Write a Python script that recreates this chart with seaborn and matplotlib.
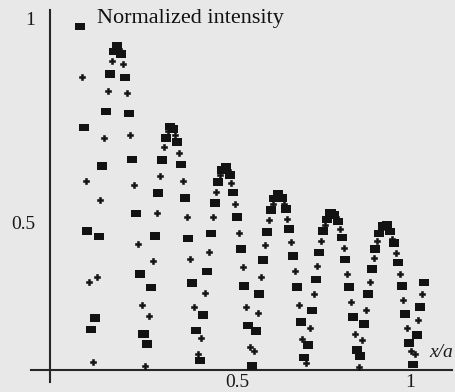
import matplotlib
matplotlib.use("Agg")
import matplotlib.pyplot as plt
import seaborn as sns
import pandas as pd
from matplotlib.path import Path
from matplotlib.transforms import ScaledTranslation

# ---------------- data ----------------
sq_x = [0.08, 0.09, 0.10, 0.11, 0.12, 0.13, 0.14, 0.15, 0.16, 0.17,
        0.18, 0.19, 0.20, 0.21, 0.22, 0.23, 0.24, 0.25, 0.26, 0.27,
        0.28, 0.29, 0.30, 0.31, 0.32, 0.33, 0.34, 0.35, 0.36, 0.37,
        0.38, 0.39, 0.40, 0.41, 0.42, 0.43, 0.44, 0.45, 0.46, 0.47,
        0.48, 0.49, 0.50, 0.51, 0.52, 0.53, 0.54, 0.55, 0.56, 0.57,
        0.58, 0.59, 0.60, 0.61, 0.62, 0.63, 0.64, 0.65, 0.66, 0.67,
        0.68, 0.69, 0.70, 0.71, 0.72, 0.73, 0.74, 0.75, 0.76, 0.77,
        0.78, 0.79, 0.80, 0.81, 0.82, 0.83, 0.84, 0.85, 0.86, 0.87,
        0.88, 0.89, 0.90, 0.91, 0.92, 0.93, 0.94, 0.95, 0.96, 0.97,
        0.98, 0.99, 1.00]
sq_y = [0.980, 0.733, 0.480, 0.239, 0.267, 0.466, 0.639, 0.772, 0.864, 0.919,
        0.933, 0.913, 0.856, 0.767, 0.655, 0.522, 0.374, 0.227, 0.203, 0.341,
        0.467, 0.573, 0.654, 0.708, 0.735, 0.729, 0.698, 0.643, 0.561, 0.461,
        0.352, 0.236, 0.162, 0.274, 0.380, 0.474, 0.548, 0.600, 0.629, 0.636,
        0.617, 0.574, 0.514, 0.435, 0.345, 0.248, 0.149, 0.235, 0.325, 0.409,
        0.477, 0.531, 0.559, 0.570, 0.560, 0.534, 0.484, 0.419, 0.343, 0.257,
        0.170, 0.201, 0.285, 0.361, 0.427, 0.480, 0.508, 0.525, 0.519, 0.503,
        0.464, 0.410, 0.343, 0.269, 0.188, 0.174, 0.252, 0.325, 0.387, 0.436,
        0.474, 0.492, 0.494, 0.478, 0.450, 0.402, 0.345, 0.276, 0.205, 0.153,
        0.225, 0.293, 0.354]

cr_x = [0.085, 0.095, 0.105, 0.115, 0.125, 0.135, 0.145, 0.155, 0.165, 0.175,
        0.185, 0.195, 0.205, 0.215, 0.225, 0.235, 0.245, 0.255, 0.265, 0.275,
        0.285, 0.295, 0.305, 0.315, 0.325, 0.335, 0.345, 0.355, 0.365, 0.375,
        0.385, 0.395, 0.405, 0.415, 0.425, 0.435, 0.445, 0.455, 0.465, 0.475,
        0.485, 0.495, 0.505, 0.515, 0.525, 0.535, 0.545, 0.555, 0.565, 0.575,
        0.585, 0.595, 0.605, 0.615, 0.625, 0.635, 0.645, 0.655, 0.665, 0.675,
        0.685, 0.695, 0.705, 0.715, 0.725, 0.735, 0.745, 0.755, 0.765, 0.775,
        0.785, 0.795, 0.805, 0.815, 0.825, 0.835, 0.845, 0.855, 0.865, 0.875,
        0.885, 0.895, 0.905, 0.915, 0.925, 0.935, 0.945, 0.955, 0.965, 0.975,
        0.985, 0.995]
cr_y = [0.857, 0.603, 0.356, 0.160, 0.368, 0.556, 0.708, 0.822, 0.896, 0.928,
        0.925, 0.889, 0.817, 0.714, 0.592, 0.448, 0.298, 0.150, 0.272, 0.405,
        0.523, 0.615, 0.686, 0.725, 0.734, 0.715, 0.671, 0.603, 0.515, 0.410,
        0.294, 0.178, 0.218, 0.329, 0.428, 0.514, 0.576, 0.617, 0.636, 0.629,
        0.597, 0.546, 0.476, 0.391, 0.294, 0.196, 0.185, 0.280, 0.367, 0.445,
        0.507, 0.545, 0.566, 0.566, 0.545, 0.510, 0.452, 0.382, 0.298, 0.215,
        0.156, 0.241, 0.325, 0.395, 0.456, 0.494, 0.519, 0.526, 0.514, 0.484,
        0.437, 0.374, 0.307, 0.227, 0.147, 0.214, 0.286, 0.356, 0.413, 0.456,
        0.485, 0.497, 0.487, 0.461, 0.427, 0.374, 0.311, 0.242, 0.187, 0.178,
        0.262, 0.325]

y_major_ticks = [0.5, 1.0]
y_major_labels = ["0.5", "1"]
x_major_ticks = [0.5, 1.0]
x_major_labels = ["0.5", "1"]
x_minor_ticks = [0.1, 0.2, 0.3, 0.4, 0.5, 0.6, 0.7, 0.8, 0.9, 1.0]
y_minor_step = 0.5 / 14
title_text = "Normalized intensity"
x_axis_name = "x/a"

# ---------------- style ----------------
sns.set_style("white")
plt.rcParams["font.family"] = ["Liberation Serif", "DejaVu Serif"]

BG = "#e8e8e8"
INK = "#121212"
AX = "#262626"

W, H, DPI = 456, 392, 100
fig = plt.figure(figsize=(W / DPI, H / DPI), dpi=DPI, facecolor=BG)
ax = fig.add_axes([0, 0, 1, 1], facecolor=BG)

# pixel <-> data mapping of the reference frame
PX0, PX_PER = 50.0, 374.0        # x: 0 at px 50, 1 unit = 374 px
PY_TOP, PY_PER = 426.9, 408.4    # y: value = (426.9 - py) / 408.4
def xv(px):
    return (px - PX0) / PX_PER
def yv(py):
    return (PY_TOP - py) / PY_PER

ax.set_xlim(xv(0), xv(W))
ax.set_ylim(yv(H), yv(0))

df_sq = pd.DataFrame({"x": sq_x, "y": sq_y})
df_cr = pd.DataFrame({"x": cr_x, "y": cr_y})

rect = Path([(-1, -0.75), (1, -0.75), (1, 0.75), (-1, 0.75), (-1, -0.75)],
            [Path.MOVETO, Path.LINETO, Path.LINETO, Path.LINETO, Path.CLOSEPOLY])

sns.scatterplot(data=df_cr, x="x", y="y", ax=ax, marker="P", s=20,
                color=INK, edgecolor=INK, linewidth=0.4, zorder=3, legend=False)
sns.scatterplot(data=df_sq, x="x", y="y", ax=ax, marker=rect, s=52,
                color=INK, edgecolor="none", linewidth=0, zorder=4, legend=False)

ax.set_xlabel("")
ax.set_ylabel("")

# axes lines (crossing axes)
for s in ["top", "right"]:
    ax.spines[s].set_visible(False)
ax.spines["left"].set_position(("data", 0.0))
ax.spines["left"].set_bounds(yv(382), yv(10))
ax.spines["bottom"].set_position(("data", yv(370)))
ax.spines["bottom"].set_bounds(xv(31), xv(452))
for s in ["left", "bottom"]:
    ax.spines[s].set_linewidth(1.5)
    ax.spines[s].set_color(AX)
    ax.spines[s].set_zorder(2)

# y ticks
ax.set_yticks(y_major_ticks, labels=y_major_labels)
y_minor = [0.5 - k * y_minor_step for k in range(1, 10)] + \
          [0.5 + k * y_minor_step for k in range(1, 14)]
ax.set_yticks(y_minor, minor=True)
ax.tick_params(axis="y", which="major", direction="in", length=5, width=1.2,
               color=AX, pad=10.5, labelsize=14, labelcolor="#1a1a1a")
ax.tick_params(axis="y", which="minor", direction="in", length=3.3, width=1.0,
               color=AX)

# x ticks
ax.set_xticks([])
ax.set_xticks(x_minor_ticks, minor=True)
ax.tick_params(axis="x", which="minor", direction="in", length=2.0, width=1.0,
               color=AX, labelbottom=False)
ax.tick_params(axis="x", which="major", labelbottom=False)

# x tick labels (the "1" sits a little left of its tick in the reference)
label_offsets = [0.0, -14.0]
for v, lab, off in zip(x_major_ticks, x_major_labels, label_offsets):
    tr = ax.transData + ScaledTranslation(off / DPI, 0, fig.dpi_scale_trans)
    ax.text(v, yv(391), lab, transform=tr, ha="center", va="bottom",
            fontsize=14, color="#1a1a1a")

ax.text(xv(97), yv(23), title_text, ha="left", va="baseline",
        fontsize=16, color="#111111")
ax.text(xv(429), yv(357), x_axis_name, ha="left", va="baseline",
        fontsize=14, style="italic", color="#1a1a1a", clip_on=False)

fig.savefig("out.png", dpi=DPI, facecolor=BG)
